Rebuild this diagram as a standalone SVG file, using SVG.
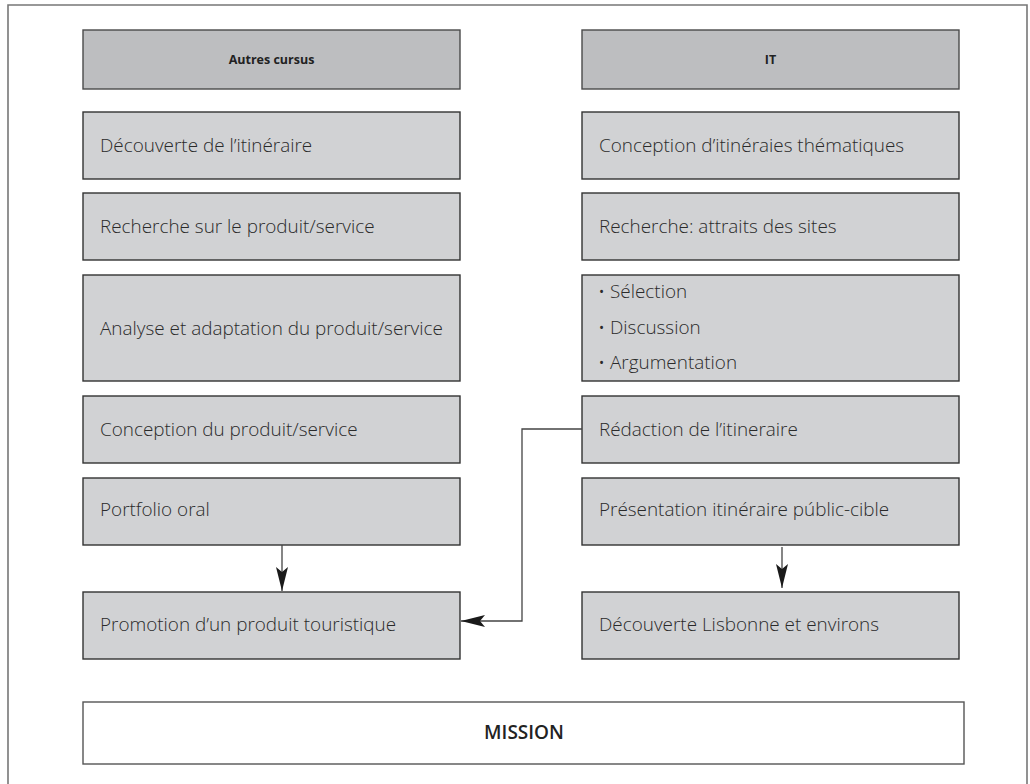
<svg xmlns="http://www.w3.org/2000/svg" width="1030" height="784" viewBox="0 0 1030 784">
<defs>
<style>
.hdr{fill:#bdbec0;stroke:#4a4a4a;stroke-width:1.4}
.box{fill:#d1d2d4;stroke:#333;stroke-width:1.4}
.mis{fill:#fff;stroke:#555;stroke-width:1.4}
.t{font-family:"Open Sans","Noto Sans",sans-serif;font-size:18.9px;font-weight:300;fill:#2a2a2a}
.h{font-family:"Open Sans","Noto Sans",sans-serif;font-size:12.5px;font-weight:bold;fill:#222;text-anchor:middle}
.m{font-family:"Open Sans","Noto Sans",sans-serif;font-size:19px;font-weight:600;fill:#222;text-anchor:middle}
.c{fill:none;stroke:#444;stroke-width:1.3}
</style>
<marker id="ah" viewBox="0 0 24 12" refX="24" refY="6" markerWidth="24" markerHeight="12" markerUnits="userSpaceOnUse" orient="auto">
<path d="M0,0 L24,6 L0,12 L5,6 Z" fill="#1a1a1a"/>
</marker>
</defs>
<rect width="1030" height="784" fill="#fff"/>
<path d="M8,784 V5 H1027 V784" fill="none" stroke="#777" stroke-width="1.6"/>

<g id="h-autres"><rect class="hdr" x="83" y="30" width="377" height="59"/><text class="h" x="271.5" y="64">Autres cursus</text></g>
<g id="h-it"><rect class="hdr" x="582" y="30" width="377" height="59"/><text class="h" x="770.5" y="64">IT</text></g>

<g id="l1"><rect class="box" x="83" y="112" width="377" height="67"/><text class="t" x="100" y="152">Découverte de l’itinéraire</text></g>
<g id="l2"><rect class="box" x="83" y="193" width="377" height="67"/><text class="t" x="100" y="233">Recherche sur le produit/service</text></g>
<g id="l3"><rect class="box" x="83" y="275" width="377" height="106"/><text class="t" x="100" y="335">Analyse et adaptation du produit/service</text></g>
<g id="l4"><rect class="box" x="83" y="396" width="377" height="67"/><text class="t" x="100" y="436">Conception du produit/service</text></g>
<g id="l5"><rect class="box" x="83" y="478" width="377" height="67"/><text class="t" x="100" y="516">Portfolio oral</text></g>
<g id="l6"><rect class="box" x="83" y="592" width="377" height="67"/><text class="t" x="100" y="631">Promotion d’un produit touristique</text></g>

<g id="r1"><rect class="box" x="582" y="112" width="377" height="67"/><text class="t" x="599" y="152">Conception d’itinéraies thématiques</text></g>
<g id="r2"><rect class="box" x="582" y="193" width="377" height="67"/><text class="t" x="599" y="233">Recherche: attraits des sites</text></g>
<g id="r3"><rect class="box" x="582" y="275" width="377" height="106"/>
<text class="t" x="598" y="298">• Sélection</text>
<text class="t" x="598" y="334">• Discussion</text>
<text class="t" x="598" y="369">• Argumentation</text></g>
<g id="r4"><rect class="box" x="582" y="396" width="377" height="67"/><text class="t" x="599" y="436">Rédaction de l’itineraire</text></g>
<g id="r5"><rect class="box" x="582" y="478" width="377" height="67"/><text class="t" x="599" y="516">Présentation itinéraire públic-cible</text></g>
<g id="r6"><rect class="box" x="582" y="592" width="377" height="67"/><text class="t" x="599" y="631">Découverte Lisbonne et environs</text></g>

<g id="mission"><rect class="mis" x="83" y="702" width="881" height="62"/><text class="m" x="524" y="739">MISSION</text></g>

<g id="connectors">
<path class="c" d="M282,545 V591" marker-end="url(#ah)"/>
<path class="c" d="M782,547 V588" marker-end="url(#ah)"/>
<path class="c" d="M582,429 H522 V621 H461" marker-end="url(#ah)"/>
</g>
</svg>
